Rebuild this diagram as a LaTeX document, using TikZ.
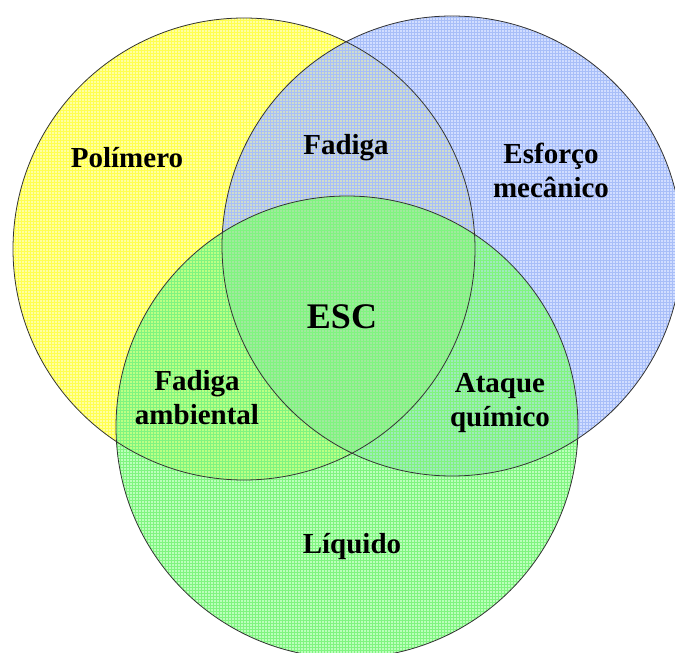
\documentclass[tikz,border=0pt]{standalone}
\usepackage{fontspec}
\setmainfont{Liberation Serif}
\usetikzlibrary{patterns}
\definecolor{yelbase}{HTML}{FFFF30}
\definecolor{yelline}{HTML}{FFFF50}
\definecolor{bluebase}{HTML}{98B4FF}
\definecolor{blueline}{HTML}{A8BEF8}
\definecolor{grnbase}{HTML}{58FF58}
\definecolor{grnline}{HTML}{80F480}
\begin{document}
\begin{tikzpicture}[x=1pt,y=-1pt,
  lbl/.style={font=\bfseries\fontsize{29}{34}\selectfont, align=center, anchor=base, inner sep=0pt},
  biglbl/.style={font=\bfseries\fontsize{36}{40}\selectfont, anchor=base, inner sep=0pt},
  ring/.style={draw=black!80, line width=0.8pt},
  tint/.style={fill opacity=0.45},
  grid lines/.style={pattern=grid, fill opacity=0.25}]
\useasboundingbox (0,0) rectangle (675,653);
\coordinate (Y) at (244,249);
\coordinate (B) at (452,246);
\coordinate (G) at (347,427);
% fills
\fill[yelbase, tint] (Y) circle[radius=231];
\fill[grid lines, pattern color=yelline] (Y) circle[radius=231];
\fill[bluebase, tint] (B) circle[radius=230];
\fill[grid lines, pattern color=blueline] (B) circle[radius=230];
\fill[grnbase, tint, fill opacity=0.4] (G) circle[radius=231];
\fill[grid lines, pattern color=grnline] (G) circle[radius=231];
% outlines
\draw[ring] (Y) circle[radius=231];
\draw[ring] (B) circle[radius=230];
\draw[ring] (G) circle[radius=231];
% labels
\node[lbl] (pol) at (127,167) {Polímero};
\node[lbl] (fad) at (346,154) {Fadiga};
\node[lbl] (esf) at (551,197) {Esforço\\mecânico};
\node[biglbl] (esc) at (342,328) {ESC};
\node[lbl] (fam) at (197,424) {Fadiga\\ambiental};
\node[lbl] (ataq) at (500,426) {Ataque\\químico};
\node[lbl] (liq) at (352,553) {Líquido};
\end{tikzpicture}
\end{document}
